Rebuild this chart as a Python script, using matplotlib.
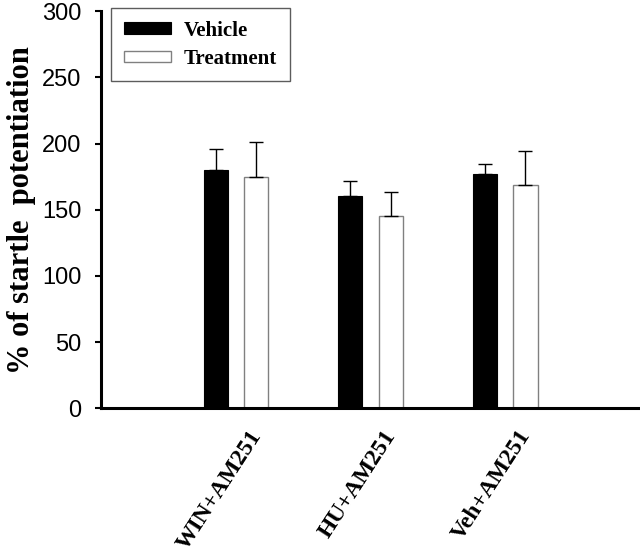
import numpy as np
import matplotlib
matplotlib.use("Agg")
import matplotlib.pyplot as plt

# data
groups = ["WIN+AM251", "HU+AM251", "Veh+AM251"]
vehicle = [180, 160, 177]
vehicle_err = [16, 11.5, 7.5]
treatment = [175, 145.5, 168.5]
treatment_err = [26, 18, 26]

serif = "Liberation Serif"
sans = "Liberation Sans"

fig = plt.figure(figsize=(6.4, 5.6), dpi=100)
ax = fig.add_axes([0.158, 0.271, 0.842, 0.709])

x = np.arange(len(groups))
w = 0.18
off = 0.15

err_kw = dict(ecolor="black", elinewidth=1.0, capsize=5, capthick=1.0)
ax.bar(x - off, vehicle, w, color="black", edgecolor="black", linewidth=0.8,
       yerr=[np.zeros(3), vehicle_err], error_kw=err_kw, label="Vehicle", zorder=2)
ax.bar(x + off, treatment, w, color="white", edgecolor="#808080", linewidth=1.0,
       yerr=[np.zeros(3), treatment_err], error_kw=err_kw, label="Treatment", zorder=2)

ax.set_xlim(-1, 3)
ax.set_ylim(0, 300)
ax.set_yticks(np.arange(0, 301, 50))
for lab in ax.get_yticklabels():
    lab.set_fontfamily(sans)
    lab.set_fontsize(17)
ax.tick_params(axis="y", direction="out", length=4, width=1.5, pad=10)
ax.set_xticks([])

for side in ["top", "right"]:
    ax.spines[side].set_visible(False)
ax.spines["left"].set_linewidth(2.2)
ax.spines["bottom"].set_linewidth(2.2)

# rotated group names under the axis
for xi, name in zip(x, groups):
    ax.annotate(name, (xi, 0), xycoords=("data", "axes fraction"),
                xytext=(9, -13), textcoords="offset points",
                rotation=57, ha="right", va="top", rotation_mode="anchor",
                fontfamily=serif, fontweight="bold", fontsize=17)

ax.set_ylabel("% of startle  potentiation", fontfamily=serif, fontweight="bold",
              fontsize=22)
ax.yaxis.set_label_coords(-0.121, 0.5)

leg = ax.legend(loc="upper left", bbox_to_anchor=(111 / 640, 1 - 8 / 560),
                bbox_transform=fig.transFigure, prop=dict(family=serif, weight="bold", size=15),
                frameon=True, fancybox=False, handlelength=2.3, handleheight=0.5,
                handletextpad=0.6, labelspacing=0.4, borderpad=0.6, borderaxespad=0)
leg.get_frame().set_edgecolor("#333333")
leg.get_frame().set_linewidth(1.0)

fig.savefig("out.png", dpi=100)
